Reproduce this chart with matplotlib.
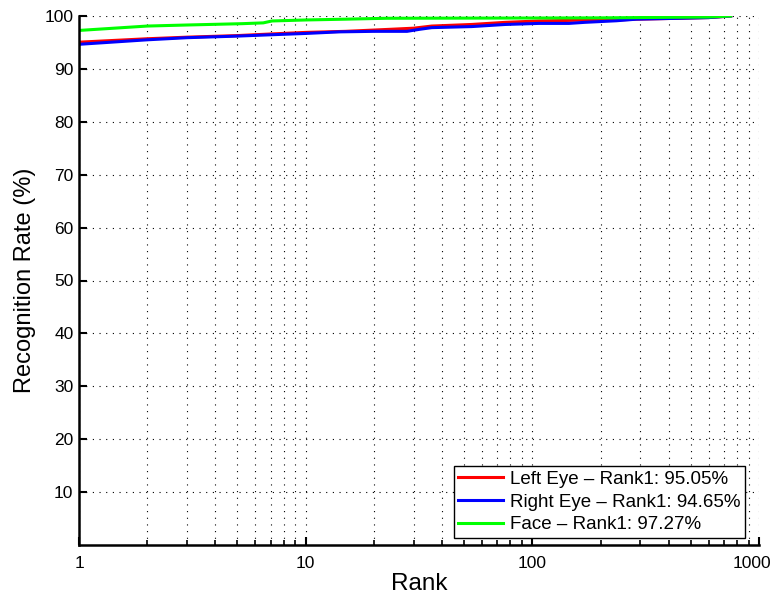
import matplotlib
matplotlib.use("Agg")
import matplotlib.pyplot as plt
from matplotlib.ticker import LogLocator, FixedLocator, NullFormatter
from matplotlib.transforms import ScaledTranslation

plt.rcParams['font.family'] = ['Liberation Sans', 'DejaVu Sans']

# Cumulative match characteristic (rank vs. recognition rate)
left_rank = [1, 2, 3, 5, 7, 10, 15, 24, 30, 36, 54, 76, 107, 160, 235, 288, 445, 600, 750]
left_rate = [95.05, 95.7, 96.0, 96.3, 96.6, 96.9, 97.1, 97.5, 97.7, 98.1, 98.4, 98.8, 99.06, 99.2, 99.25, 99.4, 99.57, 99.7, 100.0]

right_rank = [1, 2, 3, 5, 7, 10, 14, 20, 28, 32, 36, 54, 76, 107, 145, 170, 235, 288, 445, 600, 750]
right_rate = [94.65, 95.5, 95.9, 96.2, 96.45, 96.7, 97.0, 97.1, 97.1, 97.5, 97.8, 98.0, 98.4, 98.6, 98.6, 98.8, 99.1, 99.4, 99.57, 99.7, 100.0]

face_rank = [1, 2, 3, 5.25, 6.5, 7.1, 10, 15, 22.7, 50, 100, 200, 400, 600, 750]
face_rate = [97.27, 98.1, 98.3, 98.55, 98.7, 99.06, 99.25, 99.4, 99.57, 99.6, 99.62, 99.65, 99.75, 99.8, 100.0]

labels = ['Left Eye \u2013 Rank1: 95.05%',
          'Right Eye \u2013 Rank1: 94.65%',
          'Face \u2013 Rank1: 97.27%']

x_ticks = [1, 10, 100, 1000]
y_ticks = [10, 20, 30, 40, 50, 60, 70, 80, 90, 100]

W, H = 771, 602
fig = plt.figure(figsize=(W / 100, H / 100), dpi=100)
ax = fig.add_axes([79 / W, 1 - 545 / H, (759 - 79) / W, (545 - 16) / H])

ax.plot(left_rank, left_rate, color=(1, 0, 0), lw=2.2, label=labels[0])
ax.plot(right_rank, right_rate, color=(0, 0, 1), lw=2.2, label=labels[1])
ax.plot(face_rank, face_rate, color=(0, 1, 0), lw=2.2, label=labels[2])

ax.set_xscale('log')
ax.set_xlim(1, 1000)
ax.set_ylim(0, 100)
ax.xaxis.set_major_locator(FixedLocator(x_ticks))
ax.set_xticklabels([str(t) for t in x_ticks])
ax.xaxis.set_minor_locator(LogLocator(base=10, subs=range(2, 10)))
ax.xaxis.set_minor_formatter(NullFormatter())
ax.set_yticks(y_ticks)
ax.set_yticklabels([str(t) for t in y_ticks])

dots = (0, (1, 5))
ax.grid(True, which='major', axis='both', color='black', linestyle=dots, linewidth=0.8)
ax.grid(True, which='minor', axis='x', color='black', linestyle=dots, linewidth=0.8)

for side in ('top', 'right'):
    ax.spines[side].set_visible(False)
for side in ('left', 'bottom'):
    ax.spines[side].set_linewidth(1.8)

ax.tick_params(axis='both', which='major', direction='in', length=6, width=1.5,
               labelsize=12.5)
ax.tick_params(axis='y', which='major', pad=4)
ax.tick_params(axis='x', which='major', pad=8)
ax.tick_params(axis='x', which='minor', direction='in', length=3.5, width=1.2)
ax.tick_params(top=False, right=False)

# keep the last rank label inside the canvas
last = ax.get_xticklabels()[-1]
last.set_transform(last.get_transform() + ScaledTranslation(-7 / 100, 0, fig.dpi_scale_trans))

ax.set_xlabel('Rank', fontsize=17.5, labelpad=1)
ax.set_ylabel('Recognition Rate (%)', fontsize=17, labelpad=6)

leg = ax.legend(loc='lower right', bbox_to_anchor=(745 / W, 1 - 538 / H),
                bbox_transform=fig.transFigure, borderaxespad=0,
                fontsize=13.5, frameon=True, fancybox=False,
                edgecolor='black', framealpha=1, handlelength=2.4,
                labelspacing=0.3, handletextpad=0.35, borderpad=0.25)
leg.get_frame().set_linewidth(1.0)

fig.savefig('out.png', dpi=100)
